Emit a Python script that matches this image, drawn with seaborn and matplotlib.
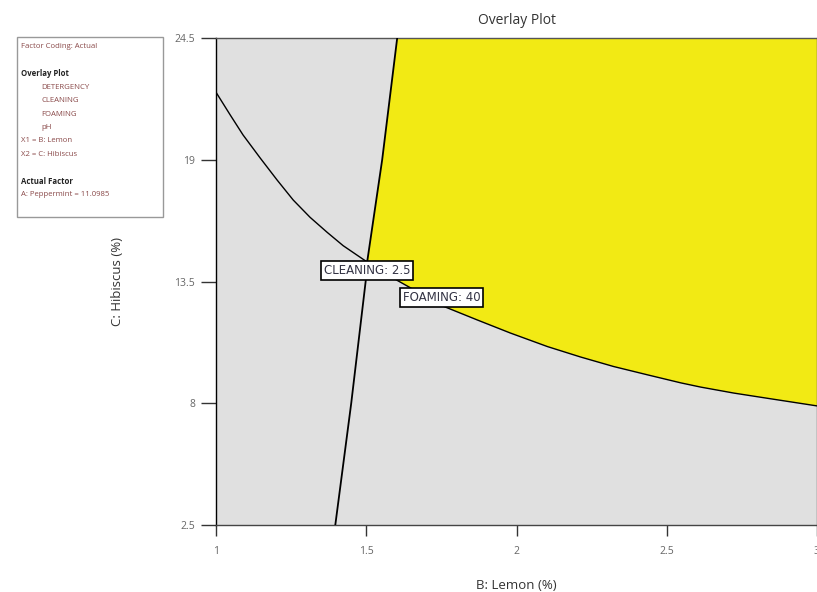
import numpy as np
import pandas as pd
import matplotlib
matplotlib.use("Agg")
import matplotlib.pyplot as plt
import seaborn as sns

# FOAMING = 40 contour (C: Hibiscus as function of B: Lemon)
foam_x = [1.0, 1.047, 1.09, 1.147, 1.203, 1.257, 1.313, 1.37, 1.423, 1.503,
          1.603, 1.757, 1.87, 1.98, 2.103, 2.213, 2.323, 2.437, 2.547, 2.613,
          2.723, 2.837, 3.0]
foam_y = [22.05, 21.03, 20.12, 19.08, 18.09, 17.18, 16.4, 15.72, 15.12, 14.38,
          13.55, 12.38, 11.76, 11.17, 10.56, 10.09, 9.66, 9.28, 8.92, 8.73,
          8.46, 8.22, 7.88]

# CLEANING = 2.5 contour
clean_y = [2.5, 8.0, 13.5, 14.38, 19.0, 24.5]
clean_x = [1.397, 1.45, 1.498, 1.503, 1.553, 1.603]

x_ticks = [1, 1.5, 2, 2.5, 3]
x_tick_labels = ["1", "1.5", "2", "2.5", "3"]
y_ticks = [2.5, 8, 13.5, 19, 24.5]
y_tick_labels = ["2.5", "8", "13.5", "19", "24.5"]

legend_lines = [
    ("Factor Coding: Actual", "normal", 0),
    ("", "normal", 0),
    ("Overlay Plot", "bold", 0),
    ("DETERGENCY", "normal", 1),
    ("CLEANING", "normal", 1),
    ("FOAMING", "normal", 1),
    ("pH", "normal", 1),
    ("X1 = B: Lemon", "normal", 0),
    ("X2 = C: Hibiscus", "normal", 0),
    ("", "normal", 0),
    ("Actual Factor", "bold", 0),
    ("A: Peppermint = 11.0985", "normal", 0),
]

sns.set_theme(style="white")
plt.rcParams["font.family"] = ["Open Sans", "DejaVu Sans"]

fig = plt.figure(figsize=(8.17, 5.92), dpi=100)
ax = fig.add_axes([216 / 817, 1 - 525 / 592, 601 / 817, 487 / 592])
ax.set_facecolor("#e0e0e0")

# Yellow feasible region: right of CLEANING line and above FOAMING curve
i0 = foam_x.index(1.503)
ci = clean_y.index(14.38)
poly_x = clean_x[ci:] + [3.0] + foam_x[::-1][: len(foam_x) - i0]
poly_y = clean_y[ci:] + [24.5] + foam_y[::-1][: len(foam_y) - i0]
ax.fill(poly_x, poly_y, color="#f2ea14", zorder=1, lw=0)

foam_df = pd.DataFrame({"x": foam_x, "y": foam_y})
clean_df = pd.DataFrame({"x": clean_x, "y": clean_y})
sns.lineplot(data=foam_df, x="x", y="y", ax=ax, color="black", lw=1.0, sort=True, zorder=3)
sns.lineplot(data=clean_df, x="x", y="y", ax=ax, color="black", lw=1.3, sort=False, zorder=3)

ax.set_xlim(1, 3)
ax.set_ylim(2.5, 24.5)
ax.set_xticks(x_ticks)
ax.set_xticklabels(x_tick_labels)
ax.set_yticks(y_ticks)
ax.set_yticklabels(y_tick_labels)
ax.tick_params(axis="x", direction="out", length=8, width=1, color="#333333",
               labelsize=7.5, labelcolor="#666666", pad=7, bottom=True)
ax.tick_params(axis="y", direction="out", length=11, width=1, color="#333333",
               labelsize=7.5, labelcolor="#666666", pad=4, left=True)
for side in ["left", "bottom", "top", "right"]:
    ax.spines[side].set_visible(True)
    ax.spines[side].set_linewidth(1.0)
ax.spines["left"].set_color("black")
ax.spines["bottom"].set_color("#444444")
ax.spines["top"].set_color("#555555")
ax.spines["right"].set_color("#555555")

ax.set_xlabel("B: Lemon (%)", fontsize=9.5, color="#333333", labelpad=16)
ax.set_ylabel("C: Hibiscus (%)", fontsize=9.5, color="#333333", labelpad=36)
ax.set_title("Overlay Plot", fontsize=10, color="#333333", pad=10)

bbox = dict(boxstyle="square,pad=0.22", fc="white", ec="black", lw=1.2)
ax.text(1.503, 14.0, "CLEANING: 2.5", fontsize=8.5, color="#333344",
        family=["DejaVu Sans"], ha="center", va="center", bbox=bbox, zorder=5)
ax.text(1.75, 12.78, "FOAMING: 40", fontsize=8.5, color="#333344",
        family=["DejaVu Sans"], ha="center", va="center", bbox=bbox, zorder=5)

# Legend box (top-left)
rect = plt.Rectangle((17 / 817, 1 - 217 / 592), 146 / 817, 180 / 592,
                     transform=fig.transFigure, fc="white", ec="#999999", lw=1.0)
fig.add_artist(rect)
y0 = 47
for i, (txt, weight, indent) in enumerate(legend_lines):
    if not txt:
        continue
    fig.text((21 + indent * 20) / 817, 1 - (y0 + i * 13.4) / 592, txt,
             fontsize=5.6, fontweight=weight,
             color="#222222" if weight == "bold" else "#8a4a4a",
             ha="left", va="center")

fig.savefig("out.png", dpi=100)
